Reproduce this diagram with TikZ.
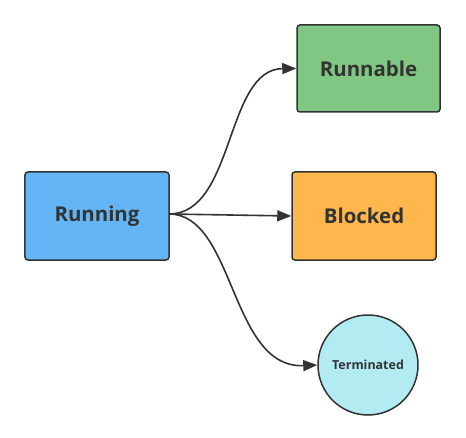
\documentclass[tikz,border=0pt]{standalone}
\usepackage{fontspec}
\setmainfont{Open Sans}
\usetikzlibrary{arrows.meta}
\definecolor{txt}{HTML}{333333}
\definecolor{bluefill}{HTML}{64B5F6}
\definecolor{greenfill}{HTML}{81C784}
\definecolor{orangefill}{HTML}{FFB74D}
\definecolor{cyanfill}{HTML}{B2EBF2}
\begin{document}
\begin{tikzpicture}[x=1bp,y=-1bp,
  statebox/.style={draw=txt,line width=1.5bp,rounded corners=3bp,minimum width=144bp,minimum height=88bp,inner sep=0,text=txt,font=\bfseries\fontsize{20.5}{24}\selectfont},
  statecirc/.style={circle,draw=txt,line width=1.5bp,minimum size=100bp,inner sep=0,text=txt,font=\bfseries\fontsize{12.5}{15}\selectfont},
  conn/.style={draw=txt,line width=1.6bp,-{Triangle[length=14bp,width=11bp]}}]
\useasboundingbox (0,0) rectangle (466,438);
\node[statebox,fill=bluefill] (run) at (97,216) {Running};
\node[statebox,fill=greenfill,minimum width=143bp,minimum height=87bp] (rbl) at (368.5,68.5) {Runnable};
\node[statebox,fill=orangefill] (blk) at (364,216) {Blocked};
\node[statecirc,fill=cyanfill] (term) at (368,365) {Terminated};
\coordinate (s) at (169,214);
\draw[conn] (s) .. controls (235,214) and (225,69) .. (rbl.west);
\draw[conn] (s) -- (blk.west);
\draw[conn] (s) .. controls (235,214) and (230,369) .. (term.west);
\end{tikzpicture}
\end{document}
